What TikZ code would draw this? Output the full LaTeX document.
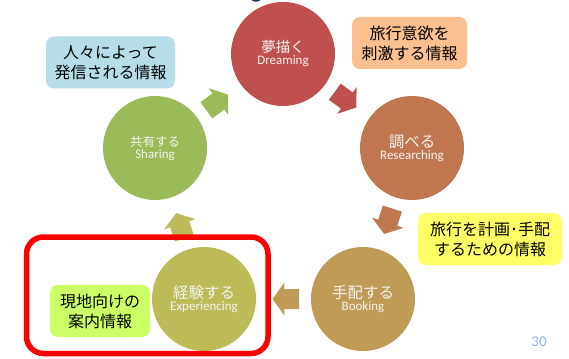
\documentclass[tikz,border=0pt]{standalone}
\usepackage{fontspec}
\setmainfont{Carlito}
\newfontfamily\jpf{Noto Sans CJK JP}
\newfontfamily\enf{Carlito}
\usetikzlibrary{calc}
\definecolor{cDream}{HTML}{C0504D}
\definecolor{cRes}{HTML}{C0764F}
\definecolor{cBook}{HTML}{BF9B55}
\definecolor{cExp}{HTML}{BDBB58}
\definecolor{cShare}{HTML}{9BBB59}
\definecolor{bBlue}{HTML}{B7DEE8}
\definecolor{bOrange}{HTML}{FAC090}
\definecolor{bYellow}{HTML}{FFFF66}
\definecolor{bGreen}{HTML}{CCFF66}
\definecolor{pageblue}{HTML}{8EB4E3}
\definecolor{topnavy}{HTML}{17375E}
\definecolor{frameRed}{HTML}{FF0000}
\definecolor{stagetext}{HTML}{F4F4F4}
\tikzset{
  stage/.style={circle, minimum size=104pt, inner sep=0pt, fill=#1, text=stagetext, align=center},
  infobox/.style={rounded corners=8pt, fill=#1, minimum height=52pt, inner sep=0pt, align=center,
    text=black, font=\jpf\fontsize{16}{20}\selectfont},
  hlframe/.style={draw=frameRed, line width=5.5pt, rounded corners=17pt, inner sep=0pt},
}
\newcommand\cyclearrow[3]{%
  \path let \p1=($(#2)-(#1)$), \p2=($(#1)!0.485!(#2)$) in
    \pgfextra{\pgfmathsetmacro\arrang{atan2(\y1,\x1)}\xdef\arrangG{\arrang}\xdef\arrmx{\x2}\xdef\arrmy{\y2}};
  \fill[#3, shift={(\arrmx,\arrmy)}, rotate=\arrangG]
    (-13.3,10) -- (1.6,10) -- (1.6,16.5) -- (13.3,0) -- (1.6,-16.5) -- (1.6,-10) -- (-13.3,-10) -- cycle;
}
\begin{document}
\begin{tikzpicture}[x=1pt, y=-1pt]
  \path[use as bounding box] (0,0) rectangle (569,358);
  \clip (0,0) rectangle (569,358);
  \fill[white] (0,0) rectangle (569,358);
  \fill[topnavy] (256,-3) ellipse [x radius=6, y radius=4.7];

  % stages
  \node[stage=cDream] (dream) at (283,54)
    {\jpf\fontsize{14.5}{16}\selectfont 夢描く\\\enf\fontsize{13}{16}\selectfont Dreaming};
  \node[stage=cRes] (res) at (412,148)
    {\jpf\fontsize{15.5}{15}\selectfont 調べる\\\enf\fontsize{13}{15}\selectfont Researching};
  \node[stage=cBook] (book) at (363,299)
    {\jpf\fontsize{15.5}{16}\selectfont 手配する\\\enf\fontsize{13}{16}\selectfont Booking};
  \node[stage=cExp] (exp) at (204,299)
    {\jpf\fontsize{15.5}{16}\selectfont 経験する\\\enf\fontsize{13}{16}\selectfont Experiencing};
  \node[stage=cShare] (share) at (155,148)
    {\jpf\fontsize{12.5}{15}\selectfont 共有する\\\enf\fontsize{13}{15}\selectfont Sharing};

  % cycle arrows
  \cyclearrow{dream}{res}{cDream}
  \cyclearrow{res}{book}{cRes}
  \cyclearrow{book}{exp}{cBook}
  \cyclearrow{exp}{share}{cExp}
  \cyclearrow{share}{dream}{cShare}

  % info boxes
  \node[infobox=bBlue, minimum width=129pt] (ishare) at (110.5,62.5) {人々によって\\発信される情報};
  \node[infobox=bOrange, minimum width=115pt] (idream) at (409.5,43) {旅行意欲を\\刺激する情報};
  \node[infobox=bYellow, minimum width=144pt] (ibook) at (490,239) {旅行を計画･手配\\するための情報};
  \node[infobox=bGreen, minimum width=100pt] (iexp) at (100,311) {現地向けの\\案内情報};

  % highlight frame
  \node[hlframe, minimum width=241.5pt, minimum height=116.5pt] (hl) at (147.25,295.25) {};

  % page number
  \node[text=pageblue, font=\enf\fontsize{15}{15}\selectfont, inner sep=0pt] (pg) at (539,341.5) {30};
\end{tikzpicture}
\end{document}
